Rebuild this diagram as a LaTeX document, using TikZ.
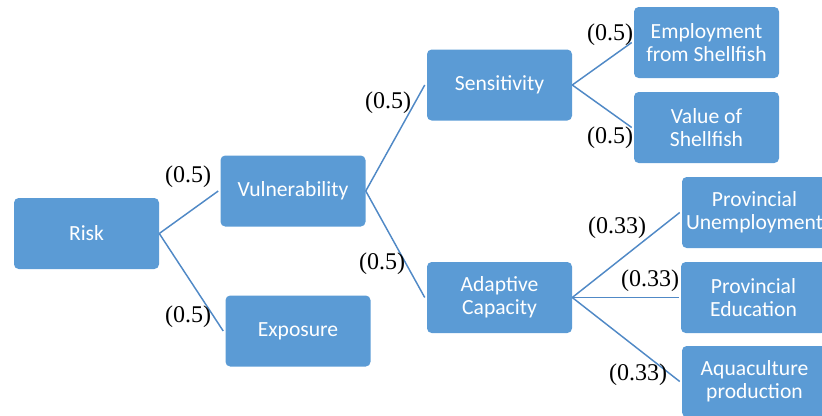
\documentclass[tikz,border=0pt]{standalone}
\usepackage{fontspec}
\setmainfont{Liberation Serif}
\newfontfamily\boxfont{Carlito}
\definecolor{boxblue}{HTML}{5B9BD5}
\definecolor{linkblue}{HTML}{5089C6}
\begin{document}
\begin{tikzpicture}[
  x=0.75pt, y=-0.75pt,
  factor/.style={fill=boxblue, rounded corners=3.5pt, align=center, text=white,
    minimum width=108.75pt, minimum height=53.25pt, inner sep=2pt,
    font=\boxfont\fontsize{16.2}{17.5}\selectfont},
  link/.style={draw=linkblue, line width=1.1pt},
  weight/.style={inner sep=0pt, font=\fontsize{18}{20}\selectfont}
]
\clip (0,0) rectangle (822,415);
\node[factor] (risk) at (86.5,233.5) {Risk};
\node[factor] (vuln) at (293,191) {Vulnerability};
\node[factor] (expo) at (298,331) {Exposure};
\node[factor] (sens) at (499.5,85) {Sensitivity};
\node[factor] (adap) at (499.5,297.5) {Adaptive\\Capacity};
\node[factor] (empl) at (706.5,42.5) {Employment\\from Shellfish};
\node[factor] (valu) at (706.5,127.5) {Value of\\Shellfish};
\node[factor] (unem) at (754.5,212.5) {Provincial\\Unemployment};
\node[factor] (educ) at (753.5,297.5) {Provincial\\Education};
\node[factor] (aqua) at (754.5,381.5) {Aquaculture\\production};

\draw[link] (risk.east) -- ([xshift=-1.5pt]vuln.west);
\draw[link] (risk.east) -- ([xshift=-1.5pt]expo.west);
\draw[link] (vuln.east) -- ([xshift=-1.5pt]sens.west);
\draw[link] (vuln.east) -- ([xshift=-1.5pt]adap.west);
\draw[link] (sens.east) -- ([xshift=-1.5pt]empl.west);
\draw[link] (sens.east) -- ([xshift=-1.5pt]valu.west);
\draw[link] (adap.east) -- ([xshift=-1.5pt]unem.west);
\draw[link] (adap.east) -- ([xshift=-1.5pt]educ.west);
\draw[link] (adap.east) -- ([xshift=-1.5pt]aqua.west);

\node[weight] (w1) at (188,177) {(0.5)};
\node[weight] (w2) at (188,317) {(0.5)};
\node[weight] (w3) at (388,103) {(0.5)};
\node[weight] (w4) at (382,264) {(0.5)};
\node[weight] (w5) at (610,35) {(0.5)};
\node[weight] (w6) at (610,138) {(0.5)};
\node[weight] (w7) at (617,228) {(0.33)};
\node[weight] (w8) at (650,281) {(0.33)};
\node[weight] (w9) at (638,375) {(0.33)};
\end{tikzpicture}
\end{document}
